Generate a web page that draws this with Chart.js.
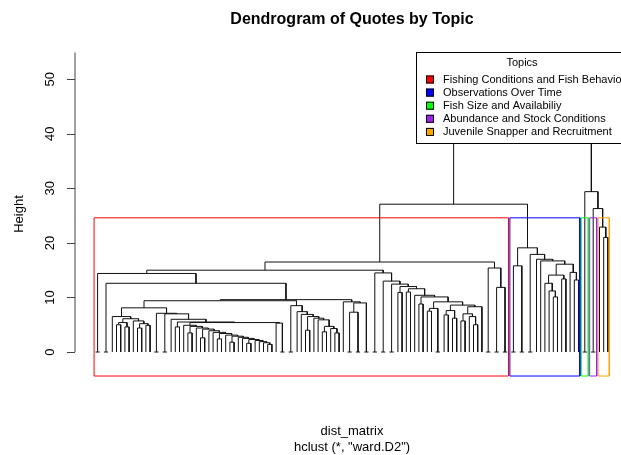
<!DOCTYPE html>
<html lang="en">
  <head>
    <meta charset="UTF-8" />
    <title>Dendrogram of Quotes by Topic</title>
    <style>
      html, body { margin: 0; padding: 0; background: #fff; }
      #wrap { width: 621px; height: 455px; }
    </style>
  </head>
  <body>
    <div id="wrap"><canvas id="chart-1" width="621" height="455"></canvas></div>

    <script src="https://cdn.jsdelivr.net/npm/chart.js"></script>
    <script>
      // legend / topics
      const topics = [
        "Fishing Conditions and Fish Behavior",
        "Observations Over Time",
        "Fish Size and Availabiliy",
        "Abundance and Stock Conditions",
        "Juvenile Snapper and Recruitment",
      ];
      const topicColors = ["#FF0000", "#0000FF", "#00FF00", "#A020F0", "#FFA500"];
      const yTicks = [0, 10, 20, 30, 40, 50];
      const cutHeight = 24.6;
      // root, fishing+observations, size+rest, abundance+juvenile
      const topHeights = [52.0, 27.1, 29.4, 26.3];

      // tree pieces: a leaf is 0, a merge is [height, left, right]
      const stairTail = [2.3, [1.6, 0, 0], [2.1, 0, [1.9, 0, [1.7, 0, [1.4, 0, 0]]]]];
      const stairMid = [3.4, [2.4, 0, 0], [3.1, 0, [2.9, [1.8, 0, 0], [2.7, 0, [2.5, 0, stairTail]]]]];
      const stairHead = [4.9, 0, [4.7, [3.5, 0, 0], [4.4, 0, [4.2, [2.6, 0, 0], [3.9, 0, [3.6, 0, stairMid]]]]]];

      const fishingA8 = [6.5, 0, [6.1, [5.4, [5.0, 0, 0], [4.6, 0, 0]], [5.7, 0, [5.2, [4.4, 0, 0], [4.9, 0, 0]]]]];
      const fishingA9 = [7.1, [0, 0, 0], [7.0, [0, 0, 0], [6.0, 0, [5.5, [4.6, 0, 0], [5.4, stairHead, [5.3, 0, [0, 0, 0]]]]]]];
      const fishingW = [7.4, 0, [6.9, 0, [6.5, [4.0, 0, 0], [6.2, 0, [5.9, 0, [4.7, [3.7, 0, 0], [4.3, 0, [3.5, 0, 0]]]]]]]];
      const fishingA5 = [9.2, 0, [9.0, [7.3, [0, 0, 0], [0, 0, 0]], [0, 0, 0]]];
      const fishingLeft = [14.4, [0, 0, 0], [12.6, [0, 0, 0], [9.6, [9.4, [8.1, fishingA8, fishingA9], [8.5, [0, 0, 0], fishingW]], fishingA5]]];

      const fishingB11 = [8.6, [7.6, [6.8, 0, 0], [6.2, 0, 0]], [8.3, [7.0, [5.7, 0, 0], [6.5, 0, [5.0, 0, 0]]], 0]];
      const fishingStep = [14.5, [0, 0, 0], [13.0, [0, 0, 0], [12.45, [0, 0, 0], [12.0, [10.9, 0, 0], [11.6, [11.0, 0, 0], [10.4, 0, [10.1, [8.8, 0, 0], [9.2, [8.0, [7.5, 0, 0], [0, 0, 0]], fishingB11]]]]]]]];
      const fishingRight = [15.4, [0, 0, 0], [11.85, [0, 0, 0], [0, 0, 0]]];
      const fishingTree = [16.5, [15.0, fishingLeft, fishingStep], fishingRight];

      const observationsTree = [19.1, [15.8, [0, 0, 0], [0, 0, 0]], [17.9, [0, 0, 0], [17.0, 0, [16.7, 0, [16.1, [14.1, [12.6, 0, [11.2, 0, [10.1, 0, 0]]], [13.4, 0, 0]], [14.6, 0, [13.2, 0, 0]]]]]]];
      const sizeTree = [0, 0, 0];
      const abundanceTree = [0, 0, 0];
      const juvenileTree = [22.9, 0, [21.0, 0, 0]];

      const clusterTrees = [fishingTree, observationsTree, sizeTree, abundanceTree, juvenileTree];
      const fullTree = [topHeights[0],
        [topHeights[1], fishingTree, observationsTree],
        [topHeights[2], sizeTree, [topHeights[3], abundanceTree, juvenileTree]]];

      // lay the tree out: leaves at 1..n, each merge gives a bracket
      const branchPoints = [];
      let leafCount = 0;
      function place(node) {
        if (!Array.isArray(node)) {
          leafCount++;
          return { x: leafCount, h: 0 };
        }
        const l = place(node[1]);
        const r = place(node[2]);
        const h = node[0];
        branchPoints.push({ x: l.x, y: l.h }, { x: l.x, y: h }, { x: r.x, y: h }, { x: r.x, y: r.h }, { x: r.x, y: null });
        return { x: (l.x + r.x) / 2, h: h };
      }
      place(fullTree);

      function countLeaves(node) {
        return Array.isArray(node) ? countLeaves(node[1]) + countLeaves(node[2]) : 1;
      }

      const yBottom = -4.4;
      const rectSets = [];
      let start = 1;
      clusterTrees.forEach((t, i) => {
        const end = start + countLeaves(t) - 1;
        const a = start - 0.34, b = end + 0.33;
        rectSets.push({
          data: [{ x: a, y: yBottom }, { x: a, y: cutHeight }, { x: b, y: cutHeight }, { x: b, y: yBottom }, { x: a, y: yBottom }],
          borderColor: topicColors[i],
          borderWidth: 1,
          pointRadius: 0,
          order: 0,
        });
        start = end + 1;
      });

      const font = "'Liberation Sans', Arial, sans-serif";

      const decor = {
        id: "decor",
        afterDatasetsDraw(chart) {
          const c = chart.ctx;
          const ys = chart.scales.y;
          const left = chart.chartArea.left;
          c.save();
          c.fillStyle = "#000";
          c.strokeStyle = "#000";
          c.lineWidth = 1;

          // title
          c.font = "bold 16px " + font;
          c.textAlign = "center";
          c.textBaseline = "middle";
          c.fillText("Dendrogram of Quotes by Topic", 352, 20);

          // y axis
          c.strokeStyle = "#444";
          c.beginPath();
          c.moveTo(left, ys.getPixelForValue(0));
          c.lineTo(left, ys.getPixelForValue(54.9));
          yTicks.forEach((v) => {
            const p = Math.round(ys.getPixelForValue(v)) + 0.5;
            c.moveTo(left - 8, p);
            c.lineTo(left, p);
          });
          c.stroke();
          c.font = "13px " + font;
          yTicks.forEach((v) => {
            c.save();
            c.translate(50, ys.getPixelForValue(v));
            c.rotate(-Math.PI / 2);
            c.fillText(String(v), 0, 0);
            c.restore();
          });
          c.save();
          c.translate(19, 214);
          c.rotate(-Math.PI / 2);
          c.fillText("Height", 0, 0);
          c.restore();

          // x captions
          c.fillText("dist_matrix", 352, 431);
          c.fillText('hclust (*, "ward.D2")', 352, 447);

          // legend box
          c.fillStyle = "#fff";
          c.fillRect(417, 53, 215, 91);
          c.strokeStyle = "#000";
          c.strokeRect(416.5, 52.5, 215, 91);
          c.fillStyle = "#000";
          c.font = "11px " + font;
          c.fillText("Topics", 522, 63);
          c.textAlign = "left";
          topics.forEach((t, i) => {
            const y = 79.5 + i * 13.1;
            c.fillStyle = topicColors[i];
            c.fillRect(426, y - 4, 8, 8);
            c.strokeRect(426.5, y - 3.5, 7, 7);
            c.fillStyle = "#000";
            c.fillText(t, 443, y);
          });
          c.restore();
        },
      };

      new Chart(document.getElementById("chart-1"), {
        type: "line",
        data: {
          datasets: [
            ...rectSets,
            {
              data: branchPoints,
              borderColor: "#111",
              borderWidth: 1,
              pointRadius: 0,
              spanGaps: false,
              order: 1,
            },
          ],
        },
        options: {
          responsive: false,
          animation: false,
          devicePixelRatio: 1,
          layout: { padding: { left: 75, right: 0, top: 40, bottom: 75 } },
          elements: { line: { tension: 0 } },
          scales: {
            x: { type: "linear", min: -3.881, max: 126.119, display: false },
            y: { type: "linear", min: -5.13, max: 57.2, display: false },
          },
          plugins: { legend: { display: false }, tooltip: { enabled: false }, title: { display: false } },
        },
        plugins: [decor],
      });
    </script>
  </body>
</html>
